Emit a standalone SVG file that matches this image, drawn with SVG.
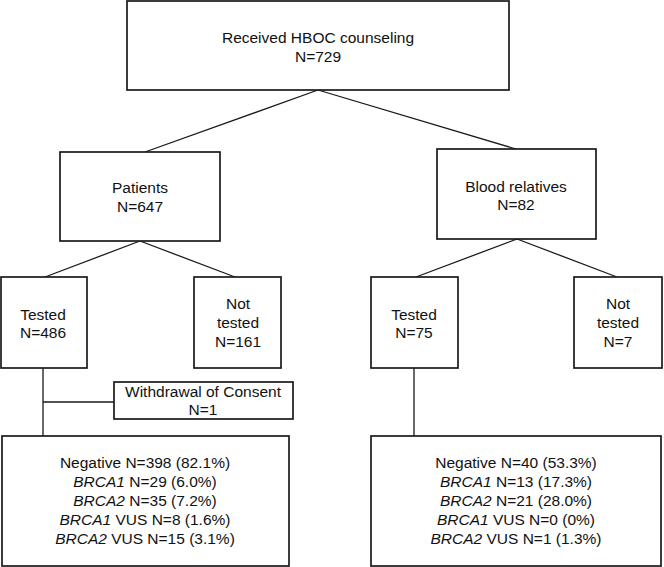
<svg xmlns="http://www.w3.org/2000/svg" width="664" height="567" viewBox="0 0 664 567">
<style>
.box{fill:#fff;stroke:#1a1a1a;stroke-width:1.7}
.ln{stroke:#1a1a1a;stroke-width:1.3;fill:none}
text{font-family:"Liberation Sans",Arial,sans-serif;font-size:15.5px;fill:#111;text-anchor:middle}
.i{font-style:italic}
</style>
<rect width="664" height="567" fill="#fff"/>
<g id="connectors">
<path class="ln" d="M318,90 L145,152 M318,90 L516,149"/>
<path class="ln" d="M140,241 L45,277 M140,241 L235,277"/>
<path class="ln" d="M517,239 L416,277 M517,239 L617,277"/>
<path class="ln" d="M43,368 V436 M43,402 H114"/>
<path class="ln" d="M414,368 V436"/>
</g>
<g id="root"><rect class="box" x="127" y="1" width="382" height="89"/>
<text x="318" y="43">Received HBOC counseling</text><text x="318" y="62">N=729</text></g>
<g id="patients"><rect class="box" x="60" y="152" width="160" height="89"/>
<text x="140" y="193">Patients</text><text x="140" y="212">N=647</text></g>
<g id="relatives"><rect class="box" x="437" y="149" width="159" height="90"/>
<text x="516" y="192">Blood relatives</text><text x="516" y="210">N=82</text></g>
<g id="tested-p"><rect class="box" x="1" y="277" width="86" height="91"/>
<text x="43" y="320">Tested</text><text x="43" y="338">N=486</text></g>
<g id="nottested-p"><rect class="box" x="194" y="277" width="87" height="91"/>
<text x="238" y="309">Not</text><text x="238" y="328">tested</text><text x="238" y="347">N=161</text></g>
<g id="tested-r"><rect class="box" x="371" y="277" width="87" height="91"/>
<text x="414" y="320">Tested</text><text x="414" y="338">N=75</text></g>
<g id="nottested-r"><rect class="box" x="574" y="277" width="88" height="91"/>
<text x="618" y="309">Not</text><text x="618" y="328">tested</text><text x="618" y="347">N=7</text></g>
<g id="withdrawal"><rect class="box" x="114" y="382" width="179" height="37"/>
<text x="203" y="397">Withdrawal of Consent</text><text x="203" y="415">N=1</text></g>
<g id="results-p"><rect class="box" x="2" y="436" width="287" height="130"/>
<text x="145" y="468">Negative N=398 (82.1%)</text>
<text x="145" y="487"><tspan class="i">BRCA1</tspan> N=29 (6.0%)</text>
<text x="145" y="506"><tspan class="i">BRCA2</tspan> N=35 (7.2%)</text>
<text x="145" y="525"><tspan class="i">BRCA1</tspan> VUS N=8 (1.6%)</text>
<text x="145" y="544"><tspan class="i">BRCA2</tspan> VUS N=15 (3.1%)</text></g>
<g id="results-r"><rect class="box" x="371" y="436" width="290" height="130"/>
<text x="516" y="468">Negative N=40 (53.3%)</text>
<text x="516" y="487"><tspan class="i">BRCA1</tspan> N=13 (17.3%)</text>
<text x="516" y="506"><tspan class="i">BRCA2</tspan> N=21 (28.0%)</text>
<text x="516" y="525"><tspan class="i">BRCA1</tspan> VUS N=0 (0%)</text>
<text x="516" y="544"><tspan class="i">BRCA2</tspan> VUS N=1 (1.3%)</text></g>
</svg>
